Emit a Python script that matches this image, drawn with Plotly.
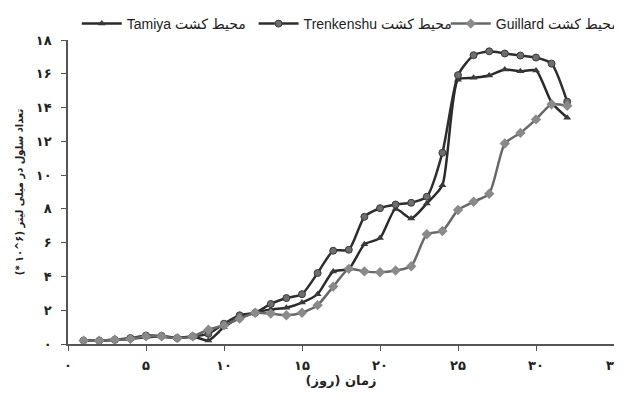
import plotly.graph_objects as go

days = list(range(1, 33))

tamiya = [0.2, 0.2, 0.25, 0.3, 0.4, 0.45, 0.35, 0.45, 0.2, 1.0,
          1.55, 1.85, 2.05, 2.15, 2.45, 2.95, 4.3, 4.45, 5.9, 6.27,
          8.0, 7.43, 8.32, 9.4, 15.65, 15.76, 15.9, 16.25, 16.15, 16.2,
          14.3, 13.4]

trenkenshu = [0.2, 0.2, 0.25, 0.35, 0.5, 0.48, 0.35, 0.45, 0.6, 1.2,
              1.7, 1.85, 2.37, 2.72, 2.95, 4.2, 5.52, 5.58, 7.53, 8.04,
              8.26, 8.36, 8.72, 11.32, 15.92, 17.1, 17.33, 17.2, 17.08, 16.96,
              16.6, 14.35]

guillard = [0.2, 0.2, 0.25, 0.3, 0.45, 0.45, 0.35, 0.45, 0.85, 1.1,
            1.5, 1.85, 1.8, 1.7, 1.85, 2.3, 3.4, 4.45, 4.3, 4.25,
            4.35, 4.6, 6.5, 6.69, 7.93, 8.42, 8.9, 11.87, 12.5, 13.3,
            14.2, 14.1]

x_tickvals = [0, 5, 10, 15, 20, 25, 30, 35]
x_ticktext = ["۰", "۵", "۱۰", "۱۵", "۲۰", "۲۵", "۳۰", "۳۵"]
y_tickvals = [0, 2, 4, 6, 8, 10, 12, 14, 16, 18]
y_ticktext = ["۰", "۲", "۴", "۶", "۸", "۱۰", "۱۲", "۱۴", "۱۶", "۱۸"]

names = ["Tamiya محیط کشت", "Trenkenshu محیط کشت", "Guillard محیط کشت"]

fig = go.Figure()
fig.add_trace(go.Scatter(
    x=days, y=tamiya, name=names[0], mode="lines+markers", legend="legend",
    line=dict(color="#2a2a2a", width=2.5, shape="spline", smoothing=0.6),
    marker=dict(symbol="triangle-up", size=7, color="#3a3a3a"),
))
fig.add_trace(go.Scatter(
    x=days, y=trenkenshu, name=names[1], mode="lines+markers", legend="legend2",
    line=dict(color="#2e2e2e", width=2.5, shape="spline", smoothing=0.6),
    marker=dict(symbol="circle", size=7, color="#6e6e6e",
                line=dict(color="#3a3a3a", width=1)),
))
fig.add_trace(go.Scatter(
    x=days, y=guillard, name=names[2], mode="lines+markers", legend="legend3",
    line=dict(color="#686868", width=2.5, shape="spline", smoothing=0.6),
    marker=dict(symbol="diamond", size=8, color="#8a8a8a"),
))

axis_font = dict(family="DejaVu Sans", size=13, color="#222", weight="bold")
legend_font = dict(family="Liberation Sans, DejaVu Sans", size=14, color="#222")


def leg(xpos):
    return dict(orientation="h", xref="container", x=xpos, xanchor="left",
                yref="container", y=1.0, yanchor="top", itemwidth=40,
                font=legend_font, bgcolor="rgba(0,0,0,0)")


# page body has an 8px default margin, so the figure is sized/offset to compensate
fig.update_layout(
    width=614, height=390,
    margin=dict(l=60, r=8, t=32, b=54, autoexpand=False),
    plot_bgcolor="white", paper_bgcolor="white",
    showlegend=True,
    legend=leg(0.112),
    legend2=leg(0.400),
    legend3=leg(0.713),
    xaxis=dict(range=[0, 35], tickvals=x_tickvals, ticktext=x_ticktext,
               showline=True, linecolor="#555", linewidth=1.5,
               ticks="outside", ticklen=5, tickcolor="#555",
               showgrid=False, zeroline=False, tickfont=axis_font,
               ticklabelstandoff=4, automargin=False, ticklabeloverflow="allow",
               title=dict(text="\u200fزمان (روز)\u200f",
                          font=dict(family="DejaVu Sans", size=13, color="#222", weight="bold"),
                          standoff=2)),
    yaxis=dict(range=[0, 18], tickvals=y_tickvals, ticktext=y_ticktext,
               showline=True, linecolor="#555", linewidth=1.5,
               ticks="outside", ticklen=5, tickcolor="#555",
               showgrid=False, zeroline=False, tickfont=axis_font,
               ticklabelstandoff=7, automargin=False,
               title=dict(text="(* ۱۰^۶) تعداد سلول در میلی لیتر",
                          font=dict(family="DejaVu Sans Condensed, DejaVu Sans", size=11,
                                    color="#222", weight="bold"),
                          standoff=10)),
)

fig.write_html("out.html")
